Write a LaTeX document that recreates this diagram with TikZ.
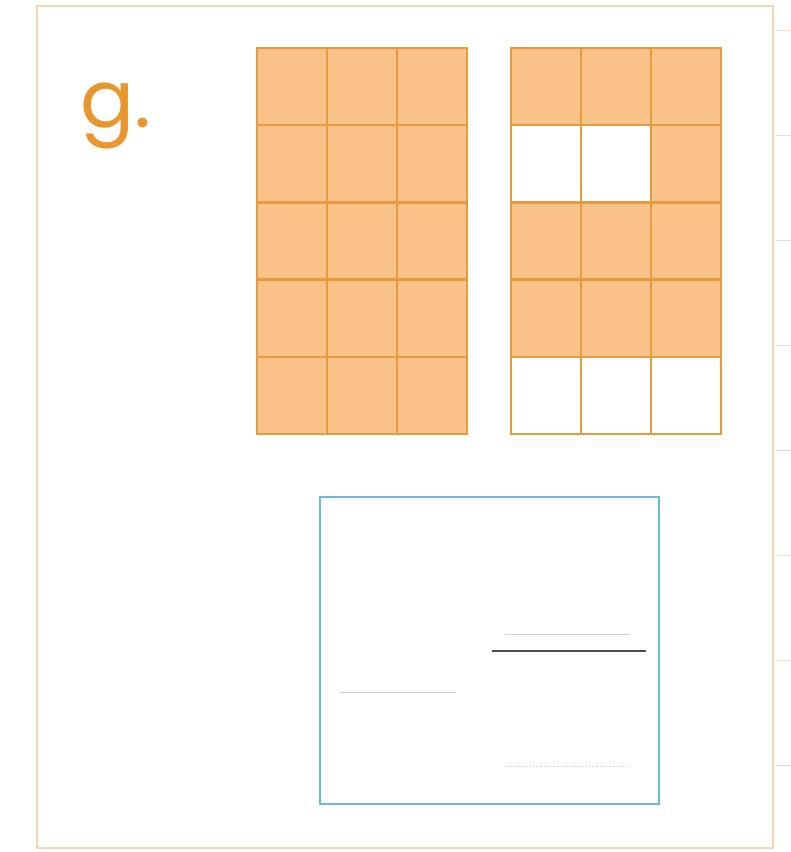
\documentclass[tikz,border=0pt]{standalone}
\usepackage{fontspec}
\setmainfont{Poppins}
\definecolor{frameC}{HTML}{F5D6B4}
\definecolor{cellF}{HTML}{F9C38A}
\definecolor{cellL}{HTML}{E99A3E}
\definecolor{boxC}{HTML}{66BBDD}
\definecolor{labC}{HTML}{E8962E}
\definecolor{tickC}{HTML}{F6D8D0}
\tikzset{
  cellfill/.style={fill=cellF,draw=cellL,line width=2.4pt},
  cellwhite/.style={fill=white,draw=cellL,line width=2.4pt},
  framebox/.style={draw=frameC,line width=2.5pt},
  ansbox/.style={draw=boxC,line width=2pt},
  faint/.style={draw=black!20,line width=0.8pt},
  dark/.style={draw=black!70,line width=1.3pt}
}
\begin{document}
\begin{tikzpicture}[x=1pt,y=-1pt]
\useasboundingbox (0,0) rectangle (791,852);
\fill[white] (0,0) rectangle (791,852);
\draw[framebox] (37,6) rectangle (773,848);
% ticks at right
\foreach \yy in {30,135,240,345,450,555,660,765}
  \draw[tickC,line width=1pt] (776,\yy) -- (791,\yy);
% label
\node[text=labC,font=\fontsize{80}{80}\selectfont,anchor=base west,inner sep=0pt] (lab) at (80,127) {g.};
% grid 1
\foreach \r in {0,...,4}
  \foreach \c in {0,...,2}
    \path[cellfill] ({257+70*\c},{48+77.2*\r}) rectangle ++(70,77.2);
% grid 2
\foreach \r/\c/\s in {0/0/cellfill,0/1/cellfill,0/2/cellfill,
  1/0/cellwhite,1/1/cellwhite,1/2/cellfill,
  2/0/cellfill,2/1/cellfill,2/2/cellfill,
  3/0/cellfill,3/1/cellfill,3/2/cellfill,
  4/0/cellwhite,4/1/cellwhite,4/2/cellwhite}
  \path[\s] ({511+70*\c},{48+77.2*\r}) rectangle ++(70,77.2);
% answer box
\draw[ansbox] (320,497) rectangle (659,804);
\coordinate (a1) at (505,634); \coordinate (a2) at (630,634);
\coordinate (b1) at (492,651); \coordinate (b2) at (646,651);
\coordinate (c1) at (340,692); \coordinate (c2) at (456,692);
\coordinate (d1) at (505,766); \coordinate (d2) at (630,766);
\draw[faint] (a1) -- (a2);
\draw[dark] (b1) -- (b2);
\draw[faint] (c1) -- (c2);
\draw[faint,dotted] (d1) -- (d2);
\end{tikzpicture}
\end{document}
